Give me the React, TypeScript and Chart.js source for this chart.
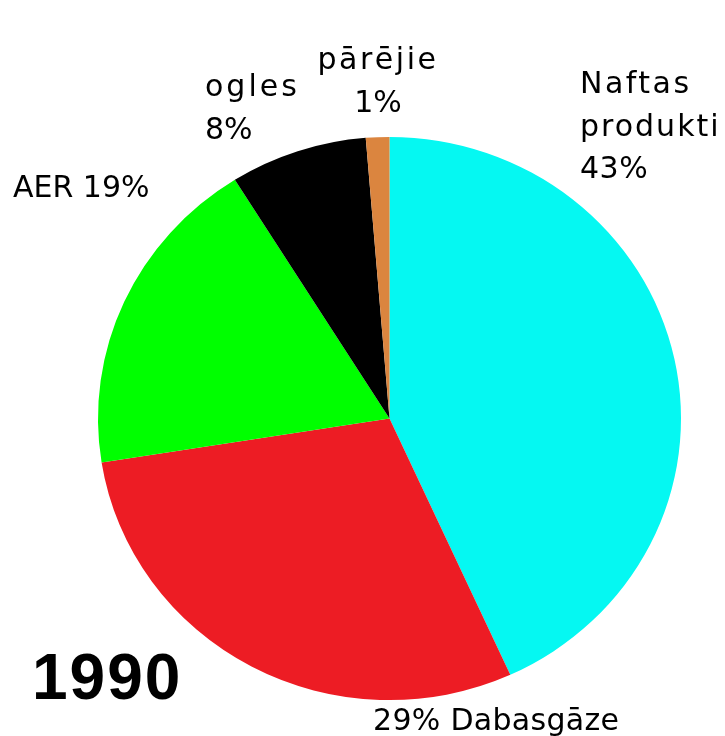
import React, { useEffect, useRef } from "react";
import { Chart, registerables } from "chart.js";

Chart.register(...registerables);

// ---- data ----
const categories = ["Naftas produkti", "Dabasgāze", "AER", "ogles", "pārējie"];
const values = [43.2, 29.3, 18.6, 7.6, 1.3];
const colors = ["#05F8F2", "#ED1C24", "#00FF00", "#000000", "#DB853F"];
const yearLabel = "1990";
const sliceLabels = [
  ["Naftas", "produkti", "43%"],
  ["29% Dabasgāze"],
  ["AER 19%"],
  ["ogles", "8%"],
  ["pārējie", "1%"],
];

// ---- layout / style ----
const W = 725;
const H = 736;
const SY = 0.966; // vertical squash of the pie (reference is slightly elliptical)
const FONT = '30px "DejaVu Sans"';
const LINE_H = 42.5;
const labelLayout = [
  { x: 580, y: 93, align: "left", spacing: [2.5, 2, 0.5] },
  { x: 373, y: 730, align: "left", spacing: [0.3] },
  { x: 13, y: 197, align: "left", spacing: [0] },
  { x: 205, y: 96, align: "left", spacing: [3, 0] },
  { x: 378, y: 69, align: "center", spacing: [2.5, 0] },
];

const ellipsePlugin = {
  id: "ellipse",
  beforeDatasetsDraw(chart: any) {
    const { ctx, chartArea: a } = chart;
    const cx = (a.left + a.right) / 2;
    const cy = (a.top + a.bottom) / 2;
    ctx.save();
    ctx.translate(cx, cy);
    ctx.scale(1, SY);
    ctx.translate(-cx, -cy);
  },
  afterDatasetsDraw(chart: any) {
    chart.ctx.restore();
  },
};

const labelPlugin = {
  id: "sliceLabels",
  afterDraw(chart: any) {
    const ctx: CanvasRenderingContext2D = chart.ctx;
    ctx.save();
    ctx.fillStyle = "#000";
    ctx.textBaseline = "alphabetic";
    sliceLabels.forEach((lines, i) => {
      const L = labelLayout[i];
      lines.forEach((line, j) => {
        ctx.font = FONT;
        (ctx as any).letterSpacing = `${L.spacing[j] || 0}px`;
        let x = L.x;
        if (L.align === "center") {
          const w = ctx.measureText(line).width;
          x = L.x - w / 2;
        }
        ctx.textAlign = "left";
        ctx.fillText(line, x, L.y + j * LINE_H);
      });
    });
    (ctx as any).letterSpacing = "2px";
    ctx.font = 'bold 64px "Liberation Sans"';
    ctx.fillText(yearLabel, 32, 699);
    ctx.restore();
  },
};

export default function App() {
  const ref = useRef<HTMLCanvasElement | null>(null);
  useEffect(() => {
    if (!ref.current) return;
    const chart = new Chart(ref.current, {
      type: "pie",
      data: {
        labels: categories,
        datasets: [
          {
            data: values,
            backgroundColor: colors,
            borderWidth: 0,
          },
        ],
      },
      options: {
        responsive: false,
        animation: false,
        rotation: 0,
        layout: { padding: { left: 98, right: 44, top: 127, bottom: 26 } },
        plugins: {
          legend: { display: false },
          title: { display: false },
          tooltip: { enabled: false },
        },
      },
      plugins: [ellipsePlugin, labelPlugin],
    });
    return () => chart.destroy();
  }, []);
  return (
    <div style={{ position: "absolute", left: 0, top: 0, width: W, height: H, background: "#fff" }}>
      <canvas ref={ref} width={W} height={H} style={{ display: "block" }} />
    </div>
  );
}
